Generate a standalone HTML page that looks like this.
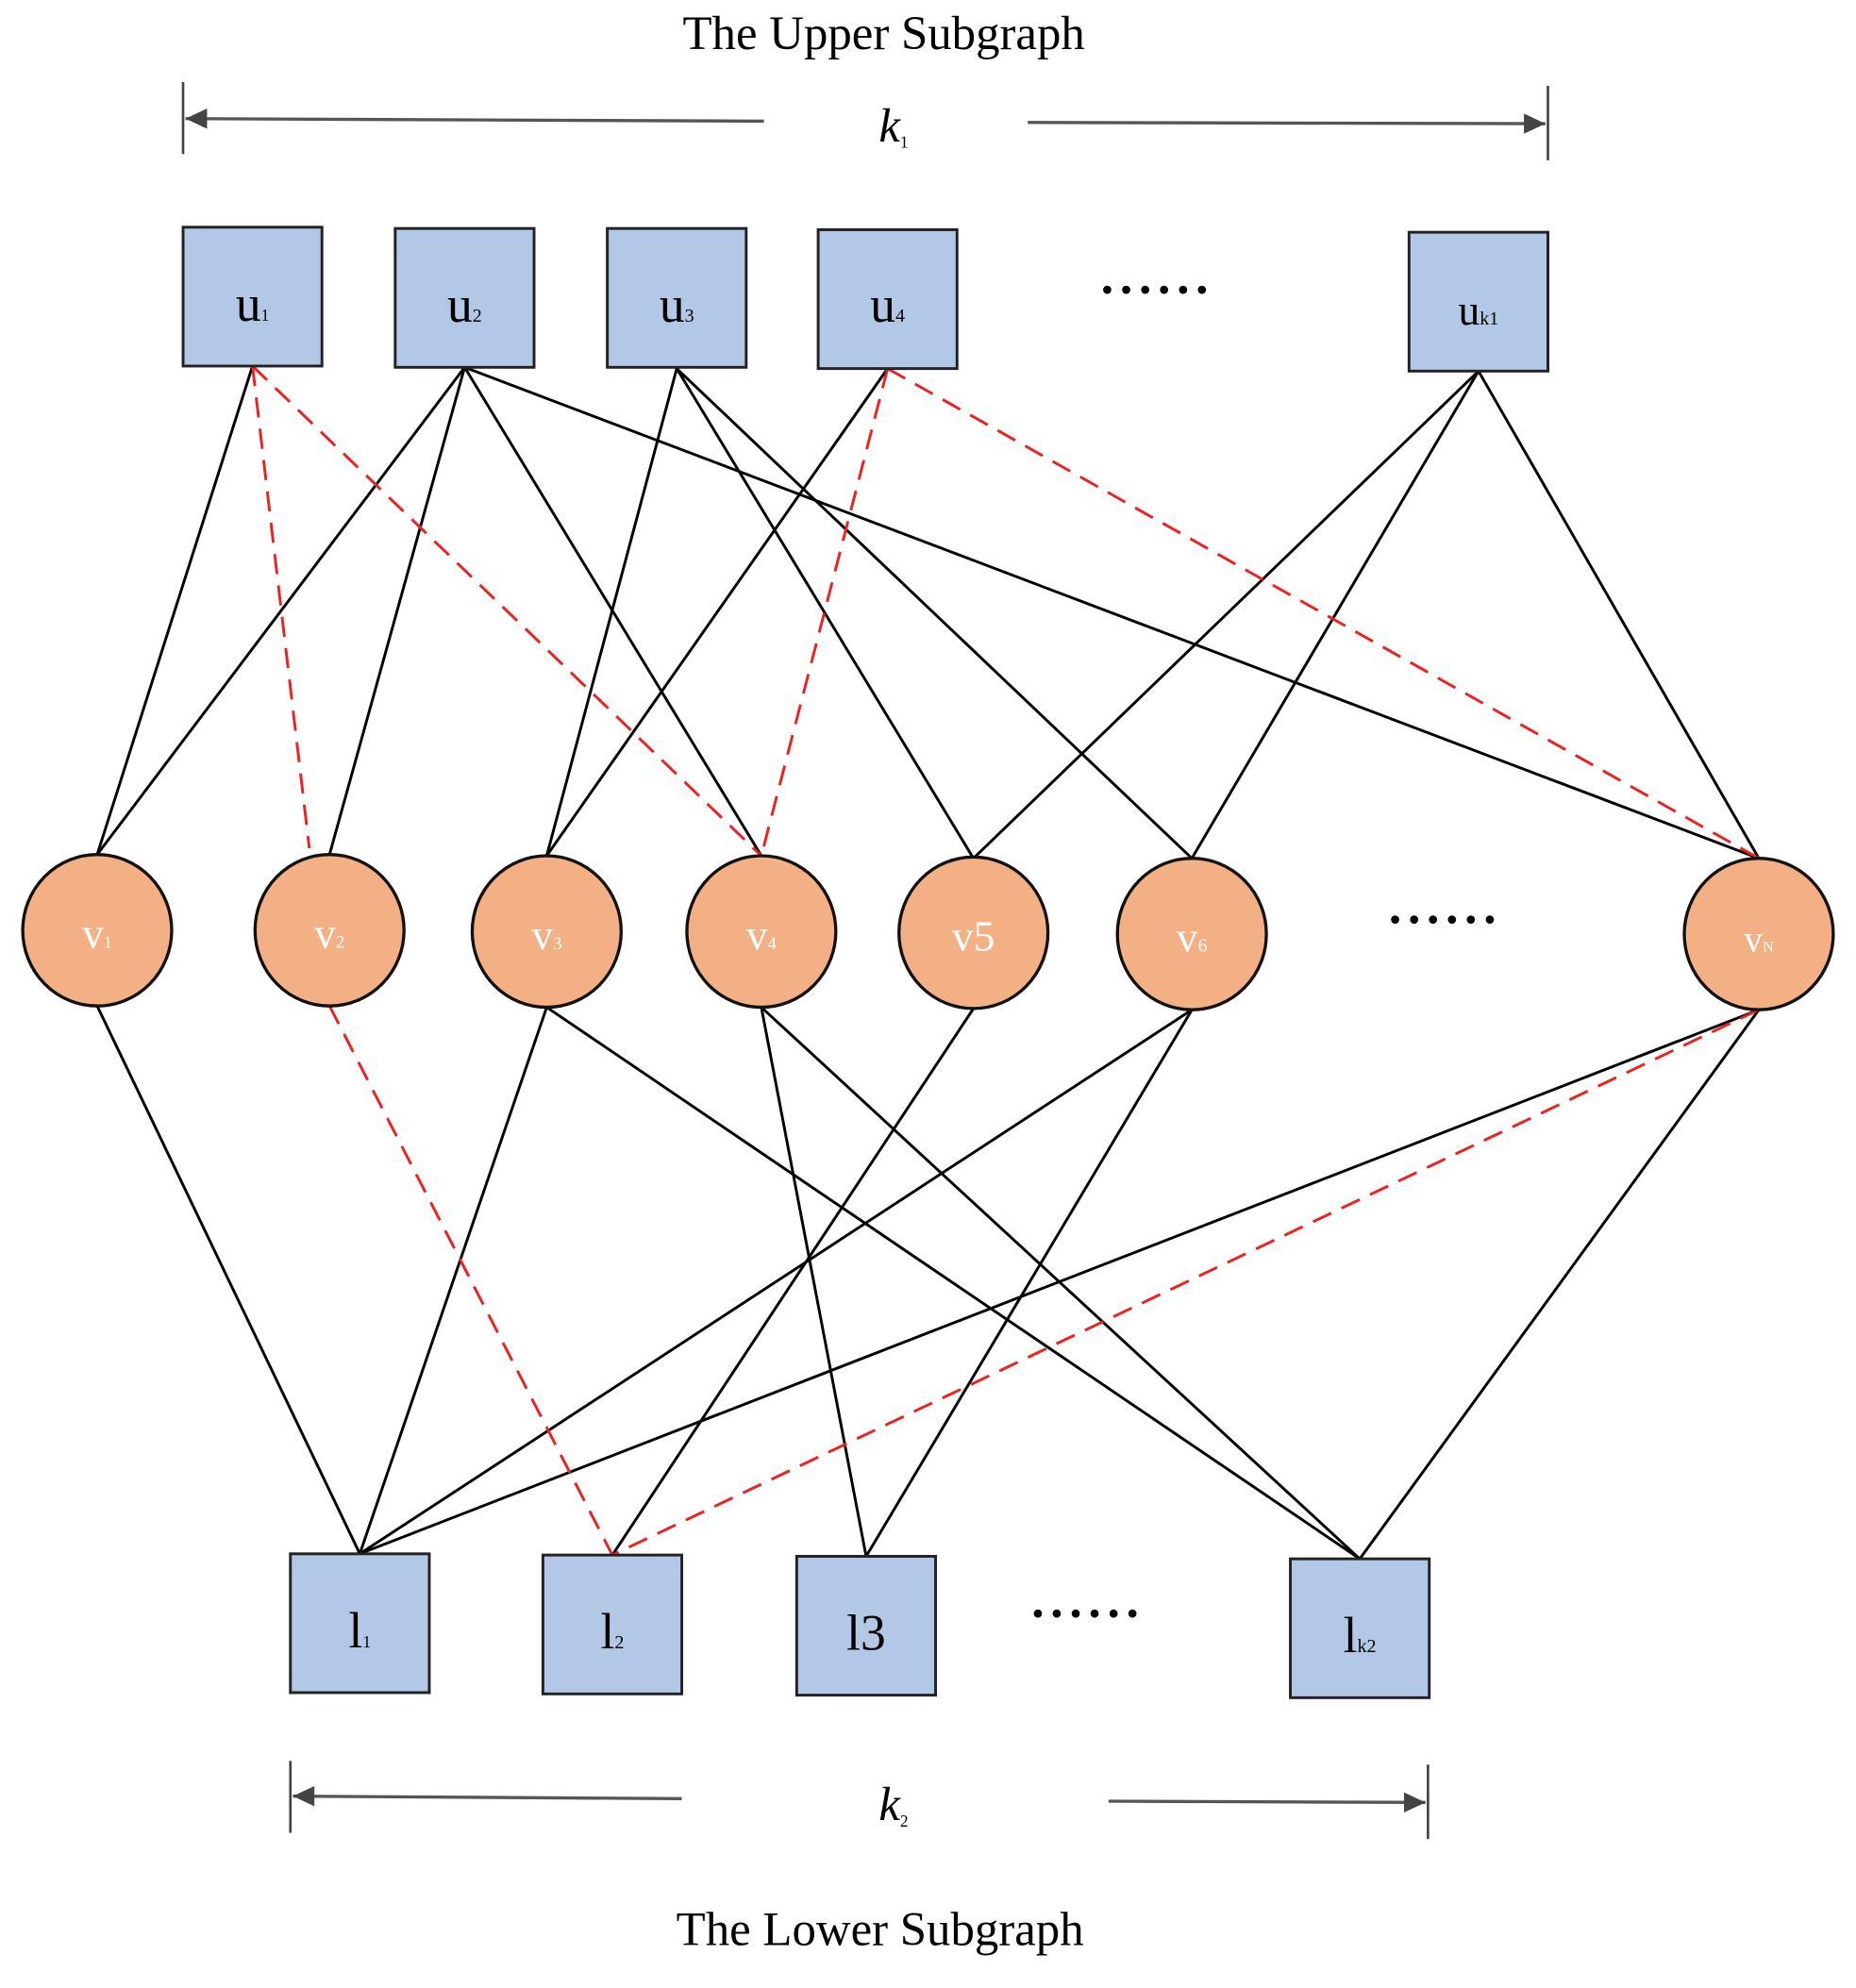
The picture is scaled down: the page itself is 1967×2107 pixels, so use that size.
<!DOCTYPE html>
<html><head><meta charset="utf-8"><style>
html,body{margin:0;padding:0;background:#fff;}
svg{display:block;}
text{font-family:"Liberation Serif",serif;}
</style></head><body>
<svg width="1967" height="2107" viewBox="0 0 1470 1575" preserveAspectRatio="none" xmlns="http://www.w3.org/2000/svg">
<text x="700" y="39" font-size="38" text-anchor="middle">The Upper Subgraph</text>
<line x1="145" y1="65" x2="145" y2="122" stroke="#444" stroke-width="2"/>
<line x1="1226" y1="68" x2="1226" y2="127" stroke="#444" stroke-width="2"/>
<line x1="605" y1="96" x2="147" y2="94" stroke="#555" stroke-width="2.5"/>
<path d="M147,94 L164,86 L164,102 z" fill="#444"/>
<line x1="814" y1="97" x2="1224" y2="98" stroke="#555" stroke-width="2.5"/>
<path d="M1224,98 L1207,90 L1207,106 z" fill="#444"/>
<text x="696" y="112" font-size="38" font-style="italic">k<tspan font-size="13" dy="5" font-style="normal">1</tspan></text>

<line x1="230" y1="1395" x2="230" y2="1452" stroke="#444" stroke-width="2"/>
<line x1="1131" y1="1398" x2="1131" y2="1457" stroke="#444" stroke-width="2"/>
<line x1="540" y1="1425" x2="232" y2="1423" stroke="#555" stroke-width="2.5"/>
<path d="M232,1423 L249,1415 L249,1431 z" fill="#444"/>
<line x1="878" y1="1427" x2="1129" y2="1428" stroke="#555" stroke-width="2.5"/>
<path d="M1129,1428 L1112,1420 L1112,1436 z" fill="#444"/>
<text x="696" y="1442" font-size="38" font-style="italic">k<tspan font-size="13" dy="5" font-style="normal">2</tspan></text>
<text x="697" y="1541" font-size="38" text-anchor="middle">The Lower Subgraph</text>

<g stroke="#000" stroke-width="2.2" fill="none">
<line x1="200" y1="290" x2="77" y2="677"/>
<line x1="368" y1="291" x2="77" y2="677"/>
<line x1="368" y1="291" x2="261" y2="677"/>
<line x1="368" y1="291" x2="603" y2="678"/>
<line x1="368" y1="291" x2="1393" y2="680"/>
<line x1="536" y1="292" x2="433" y2="678"/>
<line x1="536" y1="292" x2="771" y2="680"/>
<line x1="536" y1="292" x2="944" y2="680"/>
<line x1="703" y1="292" x2="433" y2="678"/>
<line x1="1171" y1="294" x2="771" y2="680"/>
<line x1="1171" y1="294" x2="944" y2="680"/>
<line x1="1171" y1="294" x2="1393" y2="680"/>
<line x1="77" y1="797" x2="285" y2="1231"/>
<line x1="433" y1="798" x2="285" y2="1231"/>
<line x1="433" y1="798" x2="1077" y2="1235"/>
<line x1="603" y1="798" x2="686" y2="1233"/>
<line x1="603" y1="798" x2="1077" y2="1235"/>
<line x1="771" y1="799" x2="485" y2="1232"/>
<line x1="944" y1="800" x2="285" y2="1231"/>
<line x1="944" y1="800" x2="686" y2="1233"/>
<line x1="1393" y1="800" x2="285" y2="1231"/>
<line x1="1393" y1="800" x2="1077" y2="1235"/>
</g>
<g stroke="#f02020" stroke-width="2.2" stroke-dasharray="16,9" fill="none">
<line x1="200" y1="290" x2="245" y2="672"/>
<line x1="200" y1="290" x2="603" y2="678"/>
<line x1="703" y1="292" x2="603" y2="678"/>
<line x1="703" y1="292" x2="1393" y2="680"/>
<line x1="261" y1="797" x2="485" y2="1232"/>
<line x1="1393" y1="800" x2="485" y2="1232"/>
</g>

<g fill="#b3c7e6" stroke="#222" stroke-width="2.2">
<rect x="145" y="180" width="110" height="110"/>
<rect x="313" y="181" width="110" height="110"/>
<rect x="481" y="181" width="110" height="110"/>
<rect x="648" y="182" width="110" height="110"/>
<rect x="1116" y="184" width="110" height="110"/>
<rect x="230" y="1231" width="110" height="110"/>
<rect x="430" y="1232" width="110" height="110"/>
<rect x="631" y="1233" width="110" height="110"/>
<rect x="1022" y="1235" width="110" height="110"/>
</g>
<g font-size="40" text-anchor="middle" fill="#000">
<text x="200" y="254">u<tspan font-size="13">1</tspan></text>
<text x="368" y="255">u<tspan font-size="15">2</tspan></text>
<text x="536" y="255">u<tspan font-size="15">3</tspan></text>
<text x="703" y="255">u<tspan font-size="15">4</tspan></text>
<text x="1171" y="257" font-size="34">u<tspan font-size="15">k1</tspan></text>
<text x="285" y="1305">l<tspan font-size="13">1</tspan></text>
<text x="485" y="1306">l<tspan font-size="15">2</tspan></text>
<text x="686" y="1307">l3</text>
<text x="1077" y="1309">l<tspan font-size="15">k2</tspan></text>
</g>
<g font-size="40" font-weight="bold" fill="#000">
<text x="872" y="232" letter-spacing="5">......</text>
<text x="1100" y="731" letter-spacing="5">......</text>
<text x="817" y="1281" letter-spacing="5">......</text>
</g>
<g fill="#f2b084" stroke="#111" stroke-width="2.5">
<ellipse cx="77" cy="737" rx="59" ry="60"/>
<ellipse cx="261" cy="737" rx="59" ry="60"/>
<ellipse cx="433" cy="738" rx="59" ry="60"/>
<ellipse cx="603" cy="738" rx="59" ry="60"/>
<ellipse cx="771" cy="739" rx="59" ry="60"/>
<ellipse cx="944" cy="740" rx="59" ry="60"/>
<ellipse cx="1393" cy="740" rx="59" ry="60"/>
</g>
<g font-size="34" text-anchor="middle" fill="#fff">
<text x="77" y="751">v<tspan font-size="13">1</tspan></text>
<text x="261" y="751">v<tspan font-size="14">2</tspan></text>
<text x="433" y="752">v<tspan font-size="14">3</tspan></text>
<text x="603" y="752">v<tspan font-size="14">4</tspan></text>
<text x="771" y="753">v5</text>
<text x="944" y="754">v<tspan font-size="15">6</tspan></text>
<text x="1393" y="754" font-size="30">v<tspan font-size="12">N</tspan></text>
</g>
</svg>
</body></html>
